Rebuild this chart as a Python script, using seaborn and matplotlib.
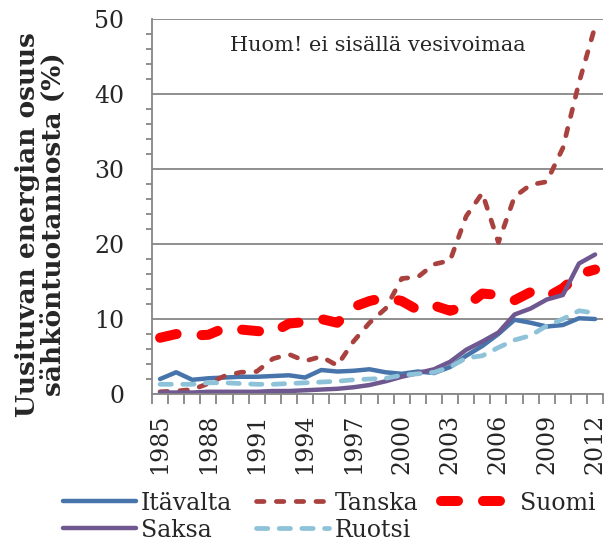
import numpy as np
import pandas as pd
import matplotlib
matplotlib.use("Agg")
import matplotlib.pyplot as plt
import seaborn as sns

# ── Data ────────────────────────────────────────────────────
vuodet = list(range(1985, 2013))
itavalta = [2.0, 2.9, 1.9, 2.1, 2.2, 2.3, 2.3, 2.4, 2.5, 2.2, 3.2, 3.0, 3.1, 3.3,
            2.9, 2.7, 3.0, 2.8, 3.6, 5.1, 6.4, 8.0, 9.9, 9.5, 9.0, 9.2, 10.1, 10.0]
tanska = [0.3, 0.4, 0.6, 1.4, 2.4, 2.9, 3.0, 4.7, 5.3, 4.4, 5.0, 3.8, 7.0, 9.5,
          11.4, 15.4, 15.6, 17.3, 17.8, 23.7, 26.8, 20.2, 26.3, 27.9, 28.3, 32.8, 41.5, 49.0]
suomi = [7.5, 8.0, 7.8, 7.9, 8.8, 8.6, 8.4, 8.2, 9.4, 9.6, 10.0, 9.5, 11.6, 12.4,
         12.9, 12.4, 11.2, 11.8, 11.1, 11.7, 13.4, 13.2, 12.5, 13.6, 12.9, 14.1, 16.0, 16.6]
saksa = [0.2, 0.2, 0.2, 0.3, 0.3, 0.3, 0.3, 0.4, 0.4, 0.5, 0.6, 0.7, 0.9, 1.2,
         1.7, 2.3, 2.8, 3.3, 4.3, 5.9, 7.0, 8.2, 10.6, 11.4, 12.6, 13.2, 17.4, 18.6]
ruotsi = [1.3, 1.3, 1.3, 1.5, 1.5, 1.4, 1.3, 1.3, 1.4, 1.5, 1.6, 1.7, 1.9, 2.0,
          2.1, 2.5, 2.7, 2.9, 3.6, 4.8, 5.1, 6.2, 7.2, 7.8, 9.1, 10.0, 11.1, 10.8]

df = pd.DataFrame({
    'vuosi': vuodet,
    'Itävalta': itavalta,
    'Tanska': tanska,
    'Suomi': suomi,
    'Saksa': saksa,
    'Ruotsi': ruotsi,
})
df['pos'] = np.arange(len(df))

sns.set_style("white")
plt.rcParams['font.family'] = ['DejaVu Serif']

fig = plt.figure(figsize=(6.08, 5.42), dpi=100)
ax = fig.add_axes([0.25, 0.273, 0.742, 0.692])

tyylit = {
    'Itävalta': dict(color='#4674AB', lw=3.2, ls='-'),
    'Tanska':   dict(color='#A9423F', lw=3.4, ls=(0, (1.6, 2.6))),
    'Suomi':    dict(color='#FF0000', lw=7.2, ls=(0, (1.7, 2.5))),
    'Saksa':    dict(color='#6F5790', lw=3.2, ls='-'),
    'Ruotsi':   dict(color='#8DC2D8', lw=3.4, ls=(0, (2.4, 2.4))),
}

viivat = {}
for nimi in ['Itävalta', 'Tanska', 'Suomi', 'Saksa', 'Ruotsi']:
    s = tyylit[nimi]
    sns.lineplot(data=df, x='pos', y=nimi, ax=ax, color=s['color'],
                 linewidth=s['lw'], label=nimi, legend=False)
    ln = ax.get_lines()[-1]
    ln.set_linestyle(s['ls'])
    ln.set_dash_capstyle('round')
    ln.set_solid_capstyle('round')
    ln.set_solid_joinstyle('round')
    viivat[nimi] = ln

# ── Axes styling ────────────────────────────────────────────
harmaa = '#868686'
ax.set_xlim(-0.5, len(vuodet) - 0.5)
ax.set_ylim(0, 50)
ax.set_yticks(range(0, 51, 10))
ax.set_yticks(range(0, 51, 2), minor=True)
ax.set_xticks(df['pos'][::3])
ax.set_xticklabels([str(v) for v in vuodet[::3]], rotation=90, fontsize=17)
ax.set_xticks(np.arange(-0.5, len(vuodet), 1.0), minor=True)
ax.tick_params(axis='y', which='major', length=7, width=1.3, color=harmaa,
               labelsize=17, pad=13)
ax.tick_params(axis='y', which='minor', length=4, width=1.3, color=harmaa, left=True)
ax.tick_params(axis='x', which='major', length=0, pad=14)
ax.tick_params(axis='x', which='minor', length=7, width=1.3, color=harmaa, bottom=True)
ax.yaxis.grid(True, which='major', color=harmaa, lw=1.3)
ax.set_axisbelow(True)
for side in ['top', 'right']:
    ax.spines[side].set_visible(False)
for side in ['left', 'bottom']:
    ax.spines[side].set_color(harmaa)
    ax.spines[side].set_linewidth(1.3)

ax.set_xlabel('')
ax.set_ylabel('Uusituvan energian osuus\nsähköntuotannosta (%)',
              fontsize=19, fontweight='bold', linespacing=1.05)
ax.yaxis.set_label_coords(-0.19, 0.453)

ax.text(0.5, 0.93, 'Huom! ei sisällä vesivoimaa', transform=ax.transAxes,
        ha='center', va='center', fontsize=15)

# legend: 2 rows, filled column-wise -> Itävalta/Saksa, Tanska/Ruotsi, Suomi
jarjestys = ['Itävalta', 'Saksa', 'Tanska', 'Ruotsi', 'Suomi']
fig.legend([viivat[n] for n in jarjestys], jarjestys, ncol=3,
           loc='upper left', bbox_to_anchor=(0.103, 0.093), frameon=False,
           fontsize=17, handlelength=3.1, handletextpad=0.22,
           columnspacing=1.0, labelspacing=0.17, borderpad=0, borderaxespad=0)

fig.savefig('out.png', dpi=100)
